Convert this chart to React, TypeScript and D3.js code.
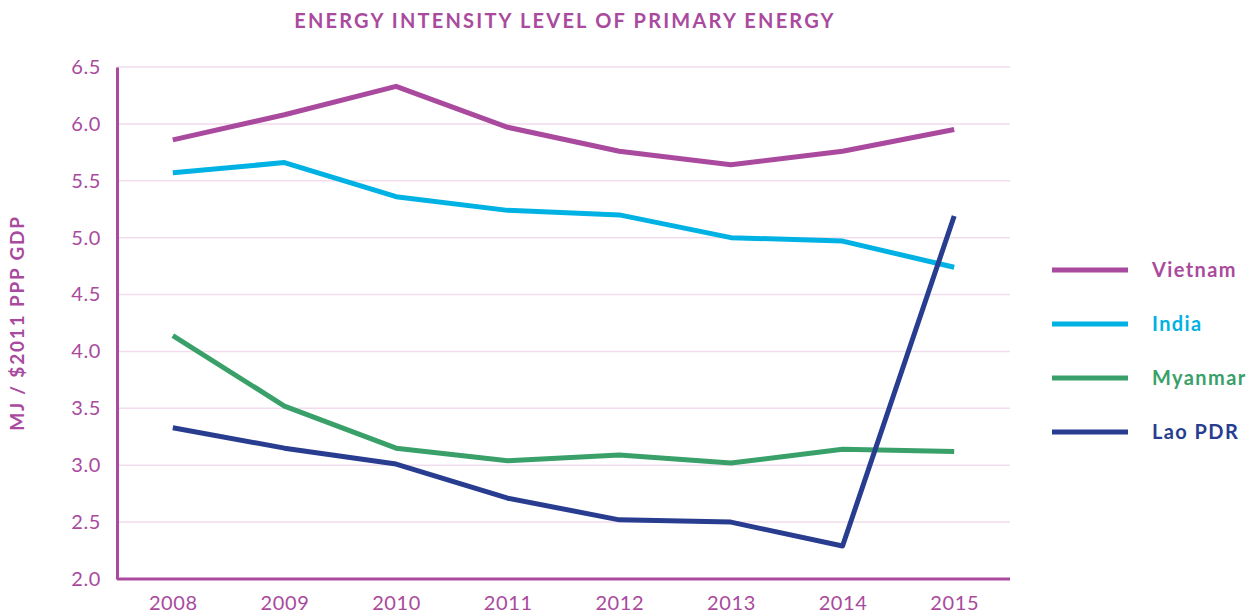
import React, { useEffect, useRef } from 'react'
import * as d3 from 'd3'

const years = ['2008', '2009', '2010', '2011', '2012', '2013', '2014', '2015']
const yTicks = [2.0, 2.5, 3.0, 3.5, 4.0, 4.5, 5.0, 5.5, 6.0, 6.5]

const vietnam = [5.86, 6.08, 6.33, 5.97, 5.76, 5.64, 5.76, 5.95]
const india = [5.57, 5.66, 5.36, 5.24, 5.20, 5.00, 4.97, 4.74]
const myanmar = [4.14, 3.52, 3.15, 3.04, 3.09, 3.02, 3.14, 3.12]
const lao = [3.33, 3.15, 3.01, 2.71, 2.52, 2.50, 2.29, 5.19]

const seriesNames = ['Vietnam', 'India', 'Myanmar', 'Lao PDR']
const seriesColors = ['#A94A9E', '#00B2E3', '#3AA06A', '#283D8F']

const W = 1258
const H = 616
const FONT = 'Lato, "Open Sans", sans-serif'
const PURPLE = '#A94A9E'

export default function App() {
  const ref = useRef<SVGSVGElement>(null)

  useEffect(() => {
    const svg = d3.select(ref.current)
    svg.selectAll('*').remove()

    const margin = { left: 117, right: 248, top: 67, bottom: 37 }
    const x = d3.scalePoint<string>()
      .domain(years)
      .range([margin.left, W - margin.right])
      .padding(0.5)
    const y = d3.scaleLinear()
      .domain([2, 6.5])
      .range([H - margin.bottom, margin.top])

    // grid
    svg.append('g')
      .selectAll('line')
      .data(yTicks.slice(1))
      .enter()
      .append('line')
      .attr('x1', margin.left)
      .attr('x2', W - margin.right)
      .attr('y1', d => y(d))
      .attr('y2', d => y(d))
      .attr('stroke', '#F2DDEF')
      .attr('stroke-width', 1.5)

    // y axis
    const yAxis = svg.append('g')
      .attr('transform', `translate(${margin.left},0)`)
      .call(d3.axisLeft(y).tickValues(yTicks).tickFormat(d3.format('.1f')).tickSize(0).tickPadding(16))
    yAxis.select('.domain').attr('stroke', PURPLE).attr('stroke-width', 3)
    yAxis.selectAll('text')
      .attr('fill', PURPLE)
      .style('font-family', FONT)
      .style('font-size', '20px')
      .style('letter-spacing', '0.6px')

    // x axis
    const xAxis = svg.append('g')
      .attr('transform', `translate(0,${H - margin.bottom})`)
      .call(d3.axisBottom(x).tickSize(0).tickPadding(17))
    xAxis.select('.domain')
      .attr('d', `M${margin.left},0H${W - margin.right}`)
      .attr('stroke', PURPLE)
      .attr('stroke-width', 3)
    xAxis.selectAll('text')
      .attr('fill', PURPLE)
      .style('font-family', FONT)
      .style('font-size', '20px')
      .style('letter-spacing', '0.6px')

    const allSeries = [vietnam, india, myanmar, lao]
    const line = d3.line<number>()
      .x((_, i) => x(years[i])!)
      .y(d => y(d))

    svg.append('g')
      .selectAll('path')
      .data(allSeries)
      .enter()
      .append('path')
      .attr('d', d => line(d))
      .attr('fill', 'none')
      .attr('stroke', (_, i) => seriesColors[i])
      .attr('stroke-width', 5)
      .attr('stroke-linejoin', 'round')

    // legend
    const legend = svg.append('g')
      .selectAll('g')
      .data(seriesNames)
      .enter()
      .append('g')
      .attr('transform', (_, i) => `translate(1052,${270 + i * 54})`)
    legend.append('line')
      .attr('x1', 0)
      .attr('x2', 76)
      .attr('stroke', (_, i) => seriesColors[i])
      .attr('stroke-width', 5)
    legend.append('text')
      .attr('x', 100)
      .attr('dy', '0.36em')
      .text(d => d)
      .attr('fill', (_, i) => seriesColors[i])
      .style('font-family', FONT)
      .style('font-size', '20px')
      .style('font-weight', 700)
      .style('letter-spacing', '1.4px')

    // title
    svg.append('text')
      .attr('x', 565)
      .attr('y', 28)
      .attr('text-anchor', 'middle')
      .text('ENERGY INTENSITY LEVEL OF PRIMARY ENERGY')
      .attr('fill', PURPLE)
      .style('font-family', FONT)
      .style('font-size', '20px')
      .style('font-weight', 700)
      .style('letter-spacing', '2.2px')

    // y label
    svg.append('text')
      .attr('transform', `translate(24,${323}) rotate(-90)`)
      .attr('text-anchor', 'middle')
      .text('MJ / $2011 PPP GDP')
      .attr('fill', PURPLE)
      .style('font-family', FONT)
      .style('font-size', '19px')
      .style('font-weight', 700)
      .style('letter-spacing', '1.8px')
  }, [])

  return (
    <svg ref={ref} width={W} height={H}
      style={{ position: 'absolute', left: 0, top: 0, background: '#fff' }} />
  )
}
